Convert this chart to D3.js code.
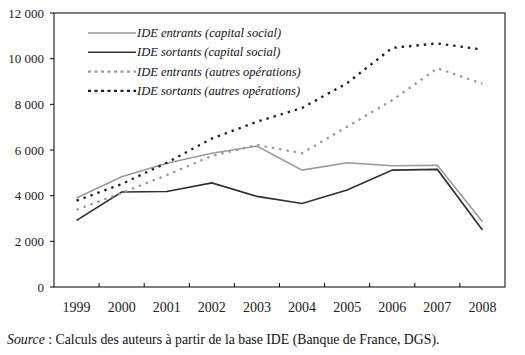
<!DOCTYPE html>
<html><head><meta charset="utf-8">
<script src="https://cdn.jsdelivr.net/npm/d3@7"></script>
<style>body{margin:0;background:#fff}</style>
</head><body>
<svg id="c" width="525" height="355"></svg>
<script>
const years = ["1999","2000","2001","2002","2003","2004","2005","2006","2007","2008"];
const entrantsCap = [3900,4830,5420,5860,6170,5120,5440,5310,5330,2860];
const sortantsCap = [2920,4160,4180,4560,3970,3660,4250,5120,5150,2500];
const entrantsAutres = [3380,4120,4900,5740,6220,5860,7020,8180,9580,8900];
const sortantsAutres = [3780,4510,5440,6500,7240,7840,8930,10470,10670,10400];
const yTicks = [0,2000,4000,6000,8000,10000,12000];
const seriesNames = ["IDE entrants (capital social)","IDE sortants (capital social)","IDE entrants (autres opérations)","IDE sortants (autres opérations)"];

const series = [
  {name:seriesNames[0], values:entrantsCap, color:"#9a9a9a", dash:null, w:1.6},
  {name:seriesNames[1], values:sortantsCap, color:"#2e2e2e", dash:null, w:1.6},
  {name:seriesNames[2], values:entrantsAutres, color:"#9a9a9a", dash:"2.4,5", w:2.3},
  {name:seriesNames[3], values:sortantsAutres, color:"#1e1e1e", dash:"2.4,5", w:2.3}
];

const svg = d3.select("#c");
const L=54, T=13, R=505, B=287;
const x = d3.scaleBand().domain(years).range([L,R]).padding(0);
const y = d3.scaleLinear().domain([0,12000]).range([B,T]);
const font = "'Liberation Serif','Times New Roman',serif";

// frame
svg.append("rect").attr("x",L).attr("y",T).attr("width",R-L).attr("height",B-T)
  .attr("fill","none").attr("stroke","#000").attr("stroke-width",1);

// y axis
const fmt = v => v>=1000 ? d3.format(",")(v).replace(","," ") : String(v);
svg.selectAll(".yt").data(yTicks).enter().append("line")
  .attr("x1",L-4).attr("x2",L).attr("y1",d=>y(d)).attr("y2",d=>y(d)).attr("stroke","#000");
svg.selectAll(".yl").data(yTicks).enter().append("text")
  .attr("x",L-10).attr("y",d=>y(d)+4.5).attr("text-anchor","end")
  .attr("font-family",font).attr("font-size",13).attr("fill","#222").text(fmt);

// x axis ticks at band boundaries (inward)
const bounds = years.slice(1).map(d=>x(d));
svg.selectAll(".xt").data(bounds).enter().append("line")
  .attr("x1",d=>d).attr("x2",d=>d).attr("y1",B-4).attr("y2",B).attr("stroke","#000");
svg.selectAll(".xl").data(years).enter().append("text")
  .attr("x",d=>x(d)+x.bandwidth()/2).attr("y",B+25).attr("text-anchor","middle")
  .attr("font-family",font).attr("font-size",14).attr("fill","#222").text(d=>d);

// lines
const line = d3.line().x((d,i)=>x(years[i])+x.bandwidth()/2).y(d=>y(d));
series.forEach(s=>{
  svg.append("path").datum(s.values).attr("d",line).attr("fill","none")
    .attr("stroke",s.color).attr("stroke-width",s.w)
    .attr("stroke-dasharray",s.dash);
});

// legend
series.forEach((s,i)=>{
  const ly = 33 + i*19.3;
  svg.append("line").attr("x1",88).attr("x2",136).attr("y1",ly).attr("y2",ly)
    .attr("stroke",s.color).attr("stroke-width",s.dash?2.4:1.4).attr("stroke-dasharray",s.dash?"3,3.5":null);
  svg.append("text").attr("x",137).attr("y",ly+4).attr("font-family",font)
    .attr("font-style","italic").attr("font-size",12.5).attr("fill","#111").text(s.name);
});

// source
const src = svg.append("text").attr("x",7).attr("y",344).attr("font-family",font)
  .attr("font-size",13.8).attr("fill","#111");
src.append("tspan").attr("font-style","italic").text("Source");
src.append("tspan").text(" : Calculs des auteurs à partir de la base IDE (Banque de France, DGS).");
</script>
</body></html>
